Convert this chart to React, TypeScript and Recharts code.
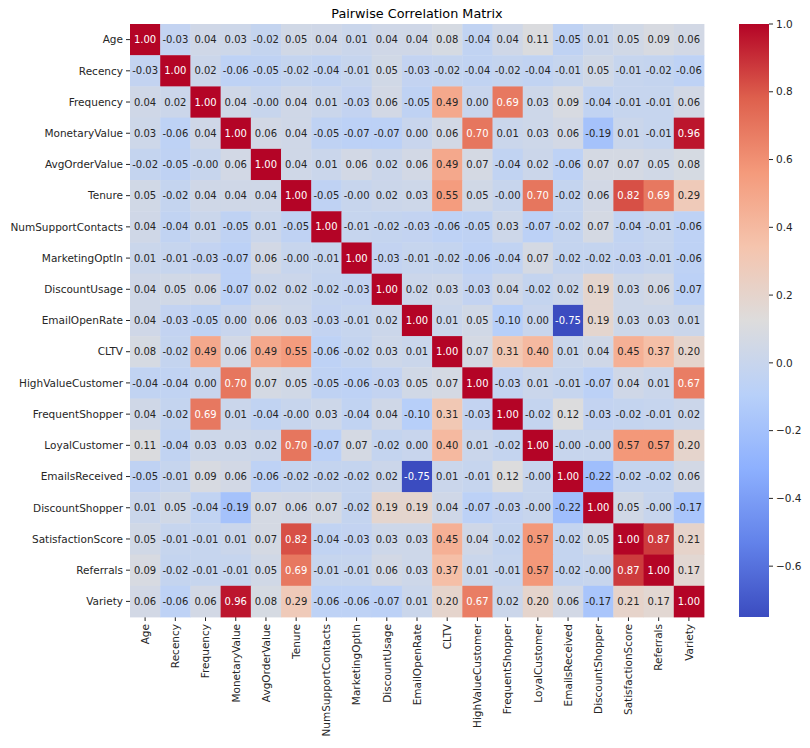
import React from 'react';
import { ScatterChart, Scatter, XAxis, YAxis, ComposedChart, ReferenceArea, Line } from 'recharts';

const labels = [
  'Age', 'Recency', 'Frequency', 'MonetaryValue', 'AvgOrderValue', 'Tenure',
  'NumSupportContacts', 'MarketingOptIn', 'DiscountUsage', 'EmailOpenRate', 'CLTV',
  'HighValueCustomer', 'FrequentShopper', 'LoyalCustomer', 'EmailsReceived',
  'DiscountShopper', 'SatisfactionScore', 'Referrals', 'Variety',
];

const N0 = -0.004; // displayed as "-0.00"

const rowAge = [1.0, -0.03, 0.04, 0.03, -0.02, 0.05, 0.04, 0.01, 0.04, 0.04, 0.08, -0.04, 0.04, 0.11, -0.05, 0.01, 0.05, 0.09, 0.06];
const rowRecency = [-0.03, 1.0, 0.02, -0.06, -0.05, -0.02, -0.04, -0.01, 0.05, -0.03, -0.02, -0.04, -0.02, -0.04, -0.01, 0.05, -0.01, -0.02, -0.06];
const rowFrequency = [0.04, 0.02, 1.0, 0.04, N0, 0.04, 0.01, -0.03, 0.06, -0.05, 0.49, 0.0, 0.69, 0.03, 0.09, -0.04, -0.01, -0.01, 0.06];
const rowMonetaryValue = [0.03, -0.06, 0.04, 1.0, 0.06, 0.04, -0.05, -0.07, -0.07, 0.0, 0.06, 0.70, 0.01, 0.03, 0.06, -0.19, 0.01, -0.01, 0.96];
const rowAvgOrderValue = [-0.02, -0.05, N0, 0.06, 1.0, 0.04, 0.01, 0.06, 0.02, 0.06, 0.49, 0.07, -0.04, 0.02, -0.06, 0.07, 0.07, 0.05, 0.08];
const rowTenure = [0.05, -0.02, 0.04, 0.04, 0.04, 1.0, -0.05, N0, 0.02, 0.03, 0.55, 0.05, N0, 0.70, -0.02, 0.06, 0.82, 0.69, 0.29];
const rowNumSupportContacts = [0.04, -0.04, 0.01, -0.05, 0.01, -0.05, 1.0, -0.01, -0.02, -0.03, -0.06, -0.05, 0.03, -0.07, -0.02, 0.07, -0.04, -0.01, -0.06];
const rowMarketingOptIn = [0.01, -0.01, -0.03, -0.07, 0.06, N0, -0.01, 1.0, -0.03, -0.01, -0.02, -0.06, -0.04, 0.07, -0.02, -0.02, -0.03, -0.01, -0.06];
const rowDiscountUsage = [0.04, 0.05, 0.06, -0.07, 0.02, 0.02, -0.02, -0.03, 1.0, 0.02, 0.03, -0.03, 0.04, -0.02, 0.02, 0.19, 0.03, 0.06, -0.07];
const rowEmailOpenRate = [0.04, -0.03, -0.05, 0.0, 0.06, 0.03, -0.03, -0.01, 0.02, 1.0, 0.01, 0.05, -0.10, 0.0, -0.75, 0.19, 0.03, 0.03, 0.01];
const rowCLTV = [0.08, -0.02, 0.49, 0.06, 0.49, 0.55, -0.06, -0.02, 0.03, 0.01, 1.0, 0.07, 0.31, 0.40, 0.01, 0.04, 0.45, 0.37, 0.20];
const rowHighValueCustomer = [-0.04, -0.04, 0.0, 0.70, 0.07, 0.05, -0.05, -0.06, -0.03, 0.05, 0.07, 1.0, -0.03, 0.01, -0.01, -0.07, 0.04, 0.01, 0.67];
const rowFrequentShopper = [0.04, -0.02, 0.69, 0.01, -0.04, N0, 0.03, -0.04, 0.04, -0.10, 0.31, -0.03, 1.0, -0.02, 0.12, -0.03, -0.02, -0.01, 0.02];
const rowLoyalCustomer = [0.11, -0.04, 0.03, 0.03, 0.02, 0.70, -0.07, 0.07, -0.02, 0.0, 0.40, 0.01, -0.02, 1.0, N0, N0, 0.57, 0.57, 0.20];
const rowEmailsReceived = [-0.05, -0.01, 0.09, 0.06, -0.06, -0.02, -0.02, -0.02, 0.02, -0.75, 0.01, -0.01, 0.12, N0, 1.0, -0.22, -0.02, -0.02, 0.06];
const rowDiscountShopper = [0.01, 0.05, -0.04, -0.19, 0.07, 0.06, 0.07, -0.02, 0.19, 0.19, 0.04, -0.07, -0.03, N0, -0.22, 1.0, 0.05, N0, -0.17];
const rowSatisfactionScore = [0.05, -0.01, -0.01, 0.01, 0.07, 0.82, -0.04, -0.03, 0.03, 0.03, 0.45, 0.04, -0.02, 0.57, -0.02, 0.05, 1.0, 0.87, 0.21];
const rowReferrals = [0.09, -0.02, -0.01, -0.01, 0.05, 0.69, -0.01, -0.01, 0.06, 0.03, 0.37, 0.01, -0.01, 0.57, -0.02, N0, 0.87, 1.0, 0.17];
const rowVariety = [0.06, -0.06, 0.06, 0.96, 0.08, 0.29, -0.06, -0.06, -0.07, 0.01, 0.20, 0.67, 0.02, 0.20, 0.06, -0.17, 0.21, 0.17, 1.0];

const matrix = [
  rowAge, rowRecency, rowFrequency, rowMonetaryValue, rowAvgOrderValue, rowTenure,
  rowNumSupportContacts, rowMarketingOptIn, rowDiscountUsage, rowEmailOpenRate, rowCLTV,
  rowHighValueCustomer, rowFrequentShopper, rowLoyalCustomer, rowEmailsReceived,
  rowDiscountShopper, rowSatisfactionScore, rowReferrals, rowVariety,
];

const colorbarTicks = [-0.6, -0.4, -0.2, 0.0, 0.2, 0.4, 0.6, 0.8, 1.0];
const VMIN = -0.75;
const VMAX = 1.0;
const TITLE = 'Pairwise Correlation Matrix';

const cells = matrix.flatMap((row, i) => row.map((v, j) => ({ x: j, y: i, v })));
const axisTicks = labels.map((_, i) => i);

// coolwarm colormap control points
const CW: [number, number, number, number][] = [
  [0.0, 59, 76, 192],
  [0.125, 98, 130, 234],
  [0.25, 141, 176, 254],
  [0.375, 184, 208, 249],
  [0.5, 221, 220, 220],
  [0.625, 245, 196, 173],
  [0.75, 244, 154, 123],
  [0.875, 222, 96, 77],
  [1.0, 180, 4, 38],
];

function cwRGB(t: number): [number, number, number] {
  const tt = Math.max(0, Math.min(1, t));
  for (let k = 0; k < CW.length - 1; k++) {
    const a = CW[k];
    const b = CW[k + 1];
    if (tt >= a[0] && tt <= b[0]) {
      const f = (tt - a[0]) / (b[0] - a[0]);
      return [a[1] + f * (b[1] - a[1]), a[2] + f * (b[2] - a[2]), a[3] + f * (b[3] - a[3])];
    }
  }
  return [CW[CW.length - 1][1], CW[CW.length - 1][2], CW[CW.length - 1][3]];
}
const toHex = (c: [number, number, number]) =>
  '#' + c.map((x) => Math.round(x).toString(16).padStart(2, '0')).join('');
function lum(c: [number, number, number]) {
  const l = c.map((x) => {
    const s = x / 255;
    return s <= 0.03928 ? s / 12.92 : Math.pow((s + 0.055) / 1.055, 2.4);
  });
  return 0.2126 * l[0] + 0.7152 * l[1] + 0.0722 * l[2];
}

const FONT = 'DejaVu Sans, sans-serif';
const TEXT = '#262626';
const TICK_FS = 10.5;
const ANNOT_FS = 10;
const TITLE_FS = 12.8;

const CH_W = 810;
const CH_H = 748;
const M_TOP = 24;
const M_RIGHT = 106;
const Y_W = 130;
const X_H = 131;
const PLOT_W = CH_W - Y_W - M_RIGHT;
const PLOT_H = CH_H - M_TOP - X_H;
const CELL_W = PLOT_W / labels.length;
const CELL_H = PLOT_H / labels.length;

const HeatCell = (props: any) => {
  const { cx, cy, payload } = props;
  if (cx == null || cy == null) return null;
  const rgb = cwRGB((payload.v - VMIN) / (VMAX - VMIN));
  const txt = lum(rgb) > 0.408 ? TEXT : '#ffffff';
  return (
    <g>
      <rect x={cx - CELL_W / 2} y={cy - CELL_H / 2} width={CELL_W + 0.4} height={CELL_H + 0.4} fill={toHex(rgb)} />
      <text x={cx} y={cy} dy="0.36em" textAnchor="middle" fontSize={ANNOT_FS} fontFamily={FONT} fill={txt}>
        {payload.v.toFixed(2)}
      </text>
    </g>
  );
};

const XTick = (props: any) => {
  const { x, y, payload } = props;
  return (
    <g transform={`translate(${x},${y})`}>
      <text x={0} y={0} dy="0.36em" transform="rotate(-90)" textAnchor="end" fontSize={TICK_FS} fontFamily={FONT} fill={TEXT}>
        {labels[payload.value]}
      </text>
    </g>
  );
};

const YTick = (props: any) => {
  const { x, y, payload } = props;
  return (
    <text x={x} y={y} dy="0.36em" textAnchor="end" fontSize={TICK_FS} fontFamily={FONT} fill={TEXT}>
      {labels[payload.value]}
    </text>
  );
};

const cbData = [{ x: 0, y: 0 }, { x: 1, y: 0 }];
const fmtCb = (v: number) => {
  const s = Math.abs(v).toFixed(1);
  return v < -1e-9 ? '\u2212' + s : s;
};

export default function App() {
  return (
    <div style={{ position: 'absolute', left: 0, top: 0, width: CH_W, height: CH_H, background: '#fff', fontFamily: FONT }}>
      <div style={{ position: 'absolute', left: 0, top: 0 }}>
        <ScatterChart width={CH_W} height={CH_H} margin={{ top: M_TOP, right: M_RIGHT, bottom: 0, left: 0 }}>
          <XAxis
            type="number"
            dataKey="x"
            domain={[-0.5, labels.length - 0.5]}
            ticks={axisTicks}
            interval={0}
            height={X_H}
            axisLine={false}
            tickLine={{ stroke: TEXT }}
            tickSize={4}
            tickMargin={3}
            tick={<XTick />}
          />
          <YAxis
            type="number"
            dataKey="y"
            domain={[-0.5, labels.length - 0.5]}
            reversed
            ticks={axisTicks}
            interval={0}
            width={Y_W}
            axisLine={false}
            tickLine={{ stroke: TEXT }}
            tickSize={4}
            tickMargin={3}
            tick={<YTick />}
          />
          <Scatter data={cells} shape={<HeatCell />} isAnimationActive={false} />
          <text x={Y_W + PLOT_W / 2} y={18} textAnchor="middle" fontSize={TITLE_FS} fontFamily={FONT} fill="#000">
            {TITLE}
          </text>
        </ScatterChart>
      </div>
      <div style={{ position: 'absolute', left: 739, top: 0 }}>
        <ComposedChart width={70} height={CH_H} data={cbData} margin={{ top: M_TOP, right: 0, bottom: X_H, left: 0 }}>
          <defs>
            <linearGradient id="cbGrad" x1="0" y1="0" x2="0" y2="1">
              {CW.slice().reverse().map((p) => (
                <stop key={p[0]} offset={1 - p[0]} stopColor={toHex([p[1], p[2], p[3]])} />
              ))}
            </linearGradient>
          </defs>
          <XAxis type="number" dataKey="x" domain={[0, 1]} hide />
          <YAxis
            orientation="right"
            type="number"
            domain={[VMIN, VMAX]}
            ticks={colorbarTicks}
            interval={0}
            width={40}
            axisLine={false}
            tickLine={{ stroke: TEXT }}
            tickSize={4}
            tickMargin={3}
            tickFormatter={fmtCb}
            tick={{ fontSize: TICK_FS, fontFamily: FONT, fill: TEXT }}
            allowDataOverflow
          />
          <ReferenceArea y1={VMIN} y2={VMAX} fill="url(#cbGrad)" fillOpacity={1} stroke="none" ifOverflow="visible" />
          <Line dataKey="y" stroke="none" dot={false} isAnimationActive={false} />
        </ComposedChart>
      </div>
    </div>
  );
}
